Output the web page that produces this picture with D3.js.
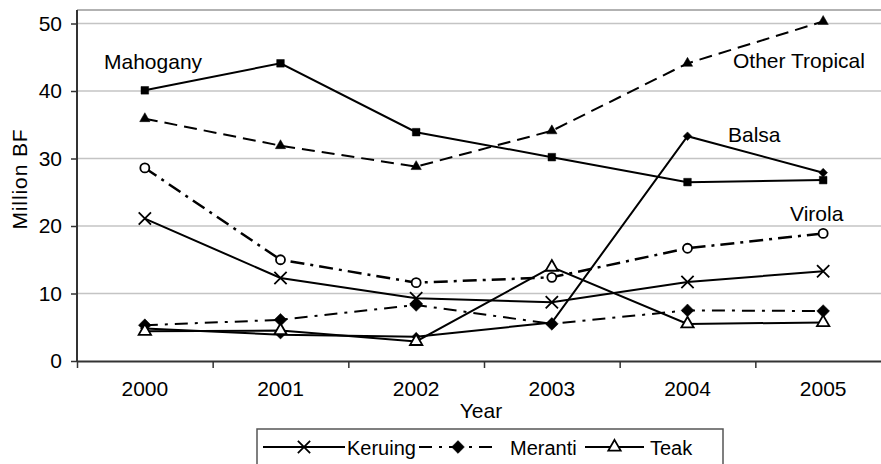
<!DOCTYPE html>
<html>
<head>
<meta charset="utf-8">
<script src="https://cdn.jsdelivr.net/npm/d3@7"></script>
<style>
  body { margin: 0; background: #fff; }
  svg { display: block; }
  svg text { font-family: "Liberation Sans", Arial, sans-serif; }
</style>
</head>
<body>
<svg width="881" height="464"></svg>
<script>
// chart data
const years = ["2000", "2001", "2002", "2003", "2004", "2005"];
const mahogany = [40.1, 44.1, 33.9, 30.2, 26.5, 26.8];
const otherTropical = [35.9, 31.9, 28.8, 34.1, 44.1, 50.3];
const balsa = [4.8, 3.9, 3.6, 5.7, 33.3, 27.9];
const virola = [28.6, 15.0, 11.6, 12.4, 16.7, 18.9];
const keruing = [21.1, 12.3, 9.3, 8.7, 11.7, 13.3];
const meranti = [5.3, 6.1, 8.3, 5.5, 7.5, 7.4];
const teak = [4.4, 4.5, 2.9, 13.9, 5.5, 5.7];
const yTicks = [0, 10, 20, 30, 40, 50];

let plot = { left: 77, right: 891, top: 10, bottom: 361 };
let font = '"Liberation Sans", Arial, sans-serif';

let svg = d3.select("svg");

let x = d3.scaleBand().domain(years).range([plot.left, plot.right]);
let xEdge = d3.scaleLinear().domain([0, years.length]).range([plot.left, plot.right]);
let y = d3.scaleLinear().domain([0, 52]).range([plot.bottom, plot.top]);

// gridlines
svg.append("g")
  .selectAll("line")
  .data(yTicks.filter(d => d > 0))
  .join("line")
  .attr("x1", plot.left).attr("x2", plot.right)
  .attr("y1", d => y(d)).attr("y2", d => y(d))
  .attr("stroke", "#c4c4c4").attr("stroke-width", 1.5);

// top border of plot area
svg.append("line")
  .attr("x1", plot.left).attr("x2", plot.right)
  .attr("y1", plot.top).attr("y2", plot.top)
  .attr("stroke", "#999").attr("stroke-width", 1.5);

// y axis
let yAxis = svg.append("g")
  .attr("transform", "translate(" + plot.left + ",0)")
  .call(d3.axisLeft(y).tickValues(yTicks).tickSize(6).tickSizeOuter(0).tickPadding(9));
yAxis.attr("font-family", font).attr("font-size", 21);
yAxis.select(".domain").attr("stroke", "#333").attr("stroke-width", 2)
  .attr("d", "M0," + plot.top + "V" + plot.bottom);
yAxis.selectAll(".tick line").attr("stroke", "#333").attr("stroke-width", 1.5);
yAxis.selectAll("text").attr("fill", "#000");

// x axis: labels from band scale, tick marks at category edges
let xAxis = svg.append("g")
  .attr("transform", "translate(0," + plot.bottom + ")")
  .call(d3.axisBottom(x).tickSize(0).tickPadding(20));
xAxis.attr("font-family", font).attr("font-size", 21);
xAxis.select(".domain").remove();
xAxis.selectAll("text").attr("fill", "#000");

let xTicks = svg.append("g")
  .attr("transform", "translate(0," + plot.bottom + ")")
  .call(d3.axisBottom(xEdge).tickValues(d3.range(years.length + 1)).tickFormat("").tickSize(7).tickSizeOuter(0));
xTicks.select(".domain").attr("stroke", "#333").attr("stroke-width", 2);
xTicks.selectAll(".tick line").attr("stroke", "#333").attr("stroke-width", 1.5);

// axis titles
svg.append("text")
  .attr("x", (plot.left + plot.right) / 2 - 3).attr("y", 418)
  .attr("text-anchor", "middle").attr("font-size", 21)
  .text("Year");

svg.append("text")
  .attr("transform", "translate(27,179) rotate(-90)")
  .attr("text-anchor", "middle").attr("font-size", 21)
  .attr("letter-spacing", 0.9)
  .text("Million BF");

// series definitions
let series = [
  { name: "Mahogany", values: mahogany, dash: null, width: 2, symbol: d3.symbolSquare, size: 58, fill: "#000" },
  { name: "Other Tropical", values: otherTropical, dash: "13,7", width: 2, symbol: d3.symbolTriangle, size: 46, fill: "#000" },
  { name: "Balsa", values: balsa, dash: null, width: 2, symbol: d3.symbolDiamond2, size: 48, fill: "#000" },
  { name: "Virola", values: virola, dash: "14,6,3,6", width: 2.5, symbol: d3.symbolCircle, size: 64, fill: "#fff" },
  { name: "Keruing", values: keruing, dash: null, width: 2, symbol: d3.symbolX, size: 100, fill: "none" },
  { name: "Meranti", values: meranti, dash: "13,7,3,7", width: 2, symbol: d3.symbolDiamond2, size: 104, fill: "#000" },
  { name: "Teak", values: teak, dash: null, width: 2, symbol: d3.symbolTriangle, size: 66, fill: "#fff" }
];

let line = d3.line()
  .x((d, i) => x(years[i]) + x.bandwidth() / 2)
  .y(d => y(d));

series.forEach(s => {
  let g = svg.append("g");
  g.append("path")
    .attr("d", line(s.values))
    .attr("fill", "none")
    .attr("stroke", "#000")
    .attr("stroke-width", s.width)
    .attr("stroke-dasharray", s.dash);
  g.selectAll("path.marker")
    .data(s.values)
    .join("path")
    .attr("class", "marker")
    .attr("transform", (d, i) => "translate(" + (x(years[i]) + x.bandwidth() / 2) + "," + y(d) + ")")
    .attr("d", d3.symbol().type(s.symbol).size(s.size))
    .attr("fill", s.fill)
    .attr("stroke", "#000")
    .attr("stroke-width", s.fill === "#000" ? 0.5 : 1.8);
});

// direct labels on the chart
let labels = [
  { text: "Mahogany", x: 104, y: 69 },
  { text: "Other Tropical", x: 733, y: 68 },
  { text: "Balsa", x: 728, y: 142 },
  { text: "Virola", x: 790, y: 221 }
];
svg.append("g")
  .selectAll("text")
  .data(labels)
  .join("text")
  .attr("x", d => d.x).attr("y", d => d.y)
  .attr("font-size", 21)
  .text(d => d.text);

// legend
let legendItems = [
  { series: series[4], x1: 263, x2: 345, tx: 347 },
  { series: series[5], x1: 419, x2: 497, tx: 510 },
  { series: series[6], x1: 585, x2: 644, tx: 650 }
];
let legend = svg.append("g");
legend.append("rect")
  .attr("x", 257).attr("y", 429).attr("width", 466).attr("height", 45)
  .attr("fill", "#fff").attr("stroke", "#555").attr("stroke-width", 1.5);
legendItems.forEach(item => {
  let s = item.series;
  let ly = 447;
  legend.append("line")
    .attr("x1", item.x1).attr("x2", item.x2)
    .attr("y1", ly).attr("y2", ly)
    .attr("stroke", "#000").attr("stroke-width", s.width)
    .attr("stroke-dasharray", s.dash);
  legend.append("path")
    .attr("transform", "translate(" + ((item.x1 + item.x2) / 2) + "," + ly + ")")
    .attr("d", d3.symbol().type(s.symbol).size(s.size))
    .attr("fill", s.fill)
    .attr("stroke", "#000")
    .attr("stroke-width", s.fill === "#000" ? 0.5 : 1.8);
  legend.append("text")
    .attr("x", item.tx).attr("y", 455)
    .attr("font-size", 20)
    .text(s.name);
});
</script>
</body>
</html>
